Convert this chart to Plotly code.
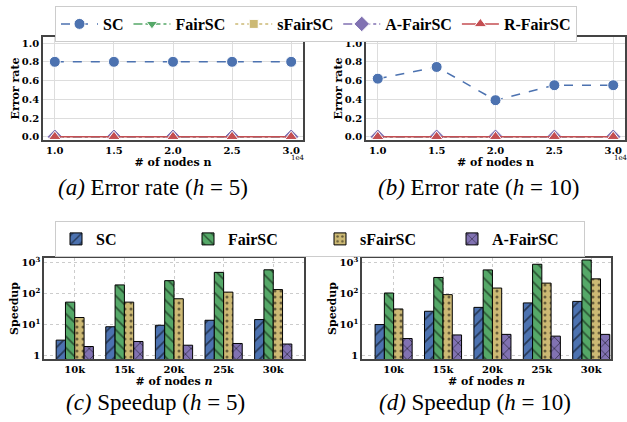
import plotly.graph_objects as go

# ---------------- data ----------------
nodes = [10000, 15000, 20000, 25000, 30000]
line_methods = ["SC", "FairSC", "sFairSC", "A-FairSC", "R-FairSC"]
err_h5 = {
    "SC": [0.80, 0.80, 0.80, 0.80, 0.80],
    "FairSC": [0.0, 0.0, 0.0, 0.0, 0.0],
    "sFairSC": [0.0, 0.0, 0.0, 0.0, 0.0],
    "A-FairSC": [0.0, 0.0, 0.0, 0.0, 0.0],
    "R-FairSC": [0.0, 0.0, 0.0, 0.0, 0.0],
}
err_h10 = {
    "SC": [0.62, 0.745, 0.39, 0.55, 0.55],
    "FairSC": [0.0, 0.0, 0.0, 0.0, 0.0],
    "sFairSC": [0.0, 0.0, 0.0, 0.0, 0.0],
    "A-FairSC": [0.0, 0.0, 0.0, 0.0, 0.0],
    "R-FairSC": [0.0, 0.0, 0.0, 0.0, 0.0],
}
bar_categories = ["10k", "15k", "20k", "25k", "30k"]
bar_methods = ["SC", "FairSC", "sFairSC", "A-FairSC"]
speed_h5 = {
    "SC": [3.2, 8.6, 9.6, 13.9, 14.6],
    "FairSC": [53, 189, 259, 478, 577],
    "sFairSC": [17, 53, 68, 111, 134],
    "A-FairSC": [2.0, 2.9, 2.2, 2.5, 2.4],
}
speed_h10 = {
    "SC": [10.1, 27, 36, 50, 56],
    "FairSC": [104, 328, 573, 870, 1190],
    "sFairSC": [32, 92, 150, 216, 296],
    "A-FairSC": [3.6, 4.7, 4.9, 4.3, 4.9],
}
log_tickvals = [1, 10, 100, 1000]
log_ticktext = ["1", "10<sup>1</sup>", "10<sup>2</sup>", "10<sup>3</sup>"]

# ---------------- styles ----------------
colors = {"SC": "#4C72B0", "FairSC": "#55A868", "sFairSC": "#CCB974",
          "A-FairSC": "#8172B2", "R-FairSC": "#C44E52"}
symbols = {"SC": "circle", "FairSC": "triangle-down", "sFairSC": "square",
           "A-FairSC": "diamond", "R-FairSC": "triangle-up"}
dashes = {"SC": "dash", "FairSC": "dashdot", "sFairSC": "dot",
          "A-FairSC": "dashdot", "R-FairSC": "solid"}
msizes = {"SC": 11, "FairSC": 10, "sFairSC": 9, "A-FairSC": 12, "R-FairSC": 11}
patterns = {"SC": "/", "FairSC": "\\", "sFairSC": ".", "A-FairSC": "x"}

xs = [n / 1e4 for n in nodes]

fig = go.Figure()

for axis_id, data in (("", err_h5), ("2", err_h10)):
    for m in line_methods:
        fig.add_trace(go.Scatter(
            x=xs, y=data[m], name=m, mode="lines+markers",
            xaxis="x" + axis_id, yaxis="y" + axis_id,
            line=dict(color=colors[m], dash=dashes[m], width=1.5),
            marker=dict(symbol=symbols[m], size=msizes[m], color=colors[m],
                        line=dict(color="white", width=1)),
            legend="legend", showlegend=(axis_id == ""),
        ))

for axis_id, data in (("3", speed_h5), ("4", speed_h10)):
    for m in bar_methods:
        fig.add_trace(go.Bar(
            x=bar_categories, y=data[m], name=m,
            xaxis="x" + axis_id, yaxis="y" + axis_id,
            marker=dict(color=colors[m], line=dict(color="black", width=1),
                        pattern=dict(shape=patterns[m], fgcolor="black",
                                     size=8 if m != "sFairSC" else 6,
                                     solidity=0.22 if m != "sFairSC" else 0.2)),
            legend="legend2", showlegend=(axis_id == "3"),
        ))

tick_font = dict(family="DejaVu Serif", size=10, color="black", weight="bold")
title_font = dict(family="DejaVu Serif", size=11, color="black", weight="bold")
frame = dict(showline=True, linecolor="#444444", linewidth=1.5, mirror=True,
             ticks="", tickfont=tick_font, zeroline=False, automargin=False)

top_y = [1 - 140 / 422, 1 - 37 / 422]
bot_y = [1 - 359 / 422, 1 - 258 / 422]

common_top_x = dict(frame, range=[0.9, 3.1], tickvals=[1.0, 1.5, 2.0, 2.5, 3.0],
                    tickformat=".1f", showgrid=True, gridcolor="#dddddd", gridwidth=1,
                    title=dict(text="# of nodes n", font=title_font, standoff=3))
common_top_y = dict(frame, range=[-0.035, 1.065], tickvals=[0, 0.2, 0.4, 0.6, 0.8, 1.0],
                    tickformat=".1f", showgrid=True, gridcolor="#dddddd", gridwidth=1,
                    title=dict(text="Error rate", font=title_font, standoff=0))
common_bot_x = dict(frame, type="category", showgrid=True, gridcolor="#cccccc",
                    griddash="dot", gridwidth=1,
                    title=dict(text="# of nodes <i>n</i>", font=title_font, standoff=3))
common_bot_y = dict(frame, type="log", range=[-0.1, 3.14], tickvals=log_tickvals,
                    ticktext=log_ticktext, showgrid=True, gridcolor="#cccccc",
                    griddash="dot", gridwidth=1,
                    title=dict(text="Speedup", font=title_font, standoff=0))

fig.update_layout(
    width=627, height=422, autosize=False,
    margin=dict(l=0, r=0, t=0, b=0),
    paper_bgcolor="white", plot_bgcolor="white",
    barmode="group", bargap=0.25, bargroupgap=0,
    xaxis=dict(common_top_x, domain=[43 / 627, 303 / 627], anchor="y"),
    yaxis=dict(common_top_y, domain=top_y, anchor="x"),
    xaxis2=dict(common_top_x, domain=[366 / 627, 625 / 627], anchor="y2"),
    yaxis2=dict(common_top_y, domain=top_y, anchor="x2"),
    xaxis3=dict(common_bot_x, domain=[44 / 627, 304 / 627], anchor="y3",
                range=[-0.62, 4.62]),
    yaxis3=dict(common_bot_y, domain=bot_y, anchor="x3"),
    xaxis4=dict(common_bot_x, domain=[362 / 627, 611 / 627], anchor="y4",
                range=[-0.64, 4.4]),
    yaxis4=dict(common_bot_y, domain=bot_y, anchor="x4"),
    legend=dict(orientation="h", x=55 / 627, xanchor="left", y=1 - 6 / 422, yanchor="top",
                bordercolor="#cccccc", borderwidth=1, bgcolor="white",
                font=dict(family="Liberation Serif", size=16, color="black", weight="bold"),
                itemwidth=37, tracegroupgap=0),
    legend2=dict(orientation="h", x=55 / 627, xanchor="left", y=1 - 221 / 422, yanchor="top",
                 bordercolor="#cccccc", borderwidth=1, bgcolor="white",
                 font=dict(family="Liberation Serif", size=16, color="black", weight="bold"),
                 entrywidth=87, entrywidthmode="pixels"),
)

cap_font = dict(family="Liberation Serif", size=23, color="black")
captions = [
    ("<i>(a)</i> Error rate (<i>h</i> = 5)", 153, 187),
    ("<i>(b)</i> Error rate (<i>h</i> = 10)", 478, 187),
    ("<i>(c)</i> Speedup (<i>h</i> = 5)", 155, 402),
    ("<i>(d)</i> Speedup (<i>h</i> = 10)", 475, 402),
]
for text, cx, cy in captions:
    fig.add_annotation(text=text, x=cx / 627, y=1 - cy / 422, xref="paper", yref="paper",
                       showarrow=False, font=cap_font, xanchor="center", yanchor="middle")

for cx in (298, 621):
    fig.add_annotation(text="1e4", x=cx / 627, y=1 - 158 / 422, xref="paper", yref="paper",
                       showarrow=False, font=dict(family="DejaVu Serif", size=7, color="black"),
                       xanchor="center", yanchor="middle")

fig.write_html("out.html", config={"displayModeBar": False},
               post_script="document.body.style.margin='0';document.body.style.padding='0';")
